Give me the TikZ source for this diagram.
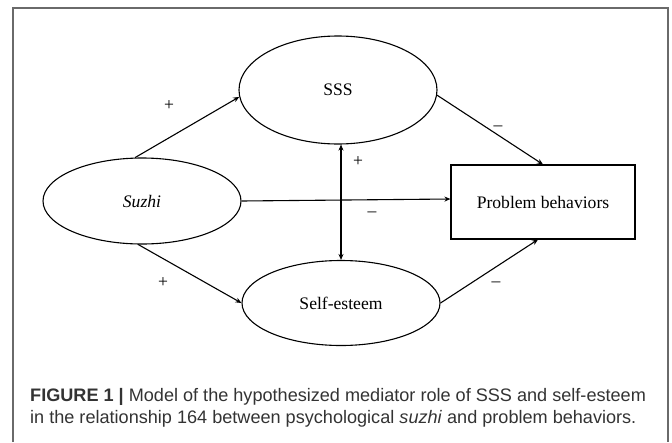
\documentclass[tikz,border=0pt]{standalone}
\usepackage{fontspec}
\setmainfont{Liberation Serif}
\newfontfamily\capfont{Liberation Sans}
\usetikzlibrary{shapes.geometric,arrows.meta,calc}
\definecolor{framegray}{HTML}{6A6A6A}
\definecolor{captext}{HTML}{333333}
\tikzset{
  ell/.style={ellipse,draw,line width=1.1pt,inner sep=0pt,font=\fontsize{17.6}{20}\selectfont},
  pbox/.style={rectangle,draw,line width=1.1pt,inner sep=0pt,font=\fontsize{17.6}{20}\selectfont},
  conn/.style={line width=1.1pt,-{Stealth[length=6pt,width=5pt]}},
  biconn/.style={line width=1.1pt,{Stealth[length=6pt,width=5pt]}-{Stealth[length=6pt,width=5pt]}},
  sign/.style={inner sep=0pt,font=\fontsize{17.6}{20}\selectfont},
  captxt/.style={anchor=base west,inner sep=0pt,text=captext,font=\capfont\fontsize{18.1}{22}\selectfont}
}
\begin{document}
\begin{tikzpicture}[x=1pt,y=-1pt]
\useasboundingbox (0,0) rectangle (672,442);
% frame
\draw[framegray,line width=1.6pt] (13,442) -- (13,8) -- (668,8) -- (668,442);
% nodes
\node[ell,minimum width=198pt,minimum height=108pt] (sss) at (338,90) {SSS};
\node[ell,minimum width=198pt,minimum height=86pt] (suzhi) at (142,201) {\textit{Suzhi}};
\node[ell,minimum width=198pt,minimum height=85pt] (se) at (341,303) {Self-esteem};
\node[pbox,minimum width=184pt,minimum height=74pt] (pb) at (543,202) {Problem behaviors};
% connectors
\draw[conn] (suzhi.99) -- (sss.184);
\draw[conn] (sss.357) -- (pb.north);
\draw[conn] (suzhi.east) -- ($(pb.west)+(0,-3)$);
\draw[conn] (suzhi.265) -- (se.west);
\draw[conn] (se.east) -- ($(pb.south)+(-5,0)$);
\draw[biconn] (se.north |- sss.south) -- (se.north);
% signs
\node[sign] (s1) at (169,106) {+};
\node[sign] (s2) at (498,128) {\textendash};
\node[sign] (s3) at (358,162) {+};
\node[sign] (s4) at (372,214) {\textendash};
\node[sign] (s5) at (163,283) {+};
\node[sign] (s6) at (496,284) {\textendash};
% caption
\node[captxt] (cap1) at (30,401) {\textbf{FIGURE 1 |} Model of the hypothesized mediator role of SSS and self-esteem};
\node[captxt] (cap2) at (30,423) {in the relationship 164 between psychological \textit{suzhi} and problem behaviors.};
\end{tikzpicture}
\end{document}
